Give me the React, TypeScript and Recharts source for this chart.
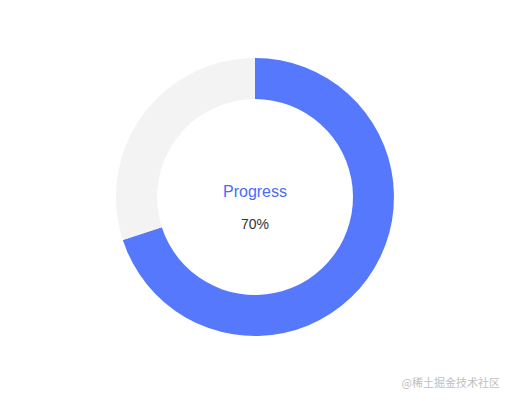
import React from "react";
import { PieChart, Pie, Cell, Label } from "recharts";

const names = ["Progress", "Remaining"];
const values = [70, 30];
const colors = ["#5578fc", "#f3f3f3"];
const centerTitle = "Progress";
const centerValue = "70%";
const watermark = "@稀土掘金技术社区";

const data = names.map((n, i) => ({ name: n, value: values[i] }));

const CenterLabel = (props: any) => {
  const vb = props.viewBox || {};
  const cx = vb.cx ?? 255;
  const cy = vb.cy ?? 197;
  return (
    <g>
      <text
        x={cx}
        y={cy - 4}
        textAnchor="middle"
        dominantBaseline="middle"
        fontSize={16}
        fill="#4a6cf7"
        fontFamily="'Liberation Sans', Arial, sans-serif"
      >
        {centerTitle}
      </text>
      <text
        x={cx}
        y={cy + 28}
        textAnchor="middle"
        dominantBaseline="middle"
        fontSize={14}
        fill="#333333"
        fontFamily="'Liberation Sans', Arial, sans-serif"
      >
        {centerValue}
      </text>
    </g>
  );
};

export default function App() {
  return (
    <div
      style={{
        position: "fixed",
        left: 0,
        top: 0,
        width: 509,
        height: 401,
        background: "#ffffff",
      }}
    >
      <PieChart width={509} height={401} margin={{ top: 0, right: 0, bottom: 0, left: 0 }}>
        <Pie
          data={data}
          dataKey="value"
          nameKey="name"
          cx={255}
          cy={197}
          innerRadius={98}
          outerRadius={139}
          startAngle={90}
          endAngle={-270}
          stroke="none"
          isAnimationActive={false}
        >
          {data.map((d, i) => (
            <Cell key={d.name} fill={colors[i]} />
          ))}
          <Label position="center" content={<CenterLabel />} />
        </Pie>
      </PieChart>
      <div
        style={{
          position: "absolute",
          right: 9,
          top: 374,
          fontSize: 11,
          color: "#c0c0c0",
          fontFamily: "'Noto Sans CJK SC', sans-serif",
          lineHeight: "16px",
        }}
      >
        {watermark}
      </div>
    </div>
  );
}
